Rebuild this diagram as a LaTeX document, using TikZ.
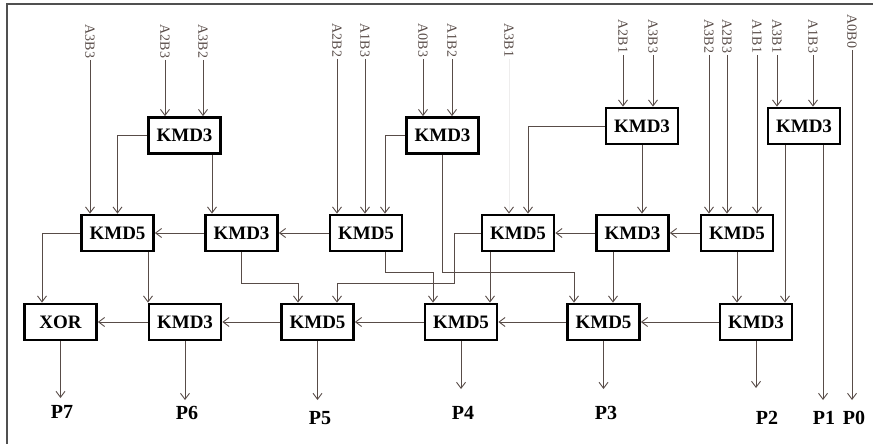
\documentclass[tikz,border=0pt]{standalone}
\usepackage{fontspec}
\setmainfont{Liberation Serif}
\usetikzlibrary{arrows.meta}
\definecolor{wirecol}{RGB}{88,76,72}
\definecolor{edgegray}{RGB}{80,80,80}

\begin{document}
\begin{tikzpicture}[x=1pt, y=-1pt,
    blk/.style={draw, line width=2.8pt, minimum width=72pt, minimum height=36pt, inner sep=0pt, font=\bfseries\fontsize{19}{19}\selectfont},
    wire/.style={draw=wirecol, line width=0.9pt, -{Straight Barb[length=6pt,width=9pt]}},
    inlab/.style={rotate=-90, anchor=west, inner sep=1.5pt, text=wirecol, font=\fontsize{14}{14}\selectfont},
    outlab/.style={font=\bfseries\fontsize{20}{20}\selectfont}]
    \useasboundingbox (0,0) rectangle (873,444);

    % Frame
    \draw[edgegray, line width=1.4pt] (7,444) -- (7,4) -- (873,4);

    % Top blocks
    \node[blk] (t1) at (184.5,135.5) {KMD3};
    \node[blk] (t2) at (442.5,135.5) {KMD3};
    \node[blk] (t3) at (642,126) {KMD3};
    \node[blk] (t4) at (804,126) {KMD3};

    % Middle blocks
    \node[blk] (m1) at (117.5,233) {KMD5};
    \node[blk] (m2) at (241.5,233) {KMD3};
    \node[blk] (m3) at (366,233) {KMD5};
    \node[blk] (m4) at (518,233) {KMD5};
    \node[blk] (m5) at (632.5,233) {KMD3};
    \node[blk] (m6) at (737,233) {KMD5};

    % Bottom blocks
    \node[blk] (b1) at (60.5,322) {XOR};
    \node[blk] (b2) at (185,322) {KMD3};
    \node[blk] (b3) at (317.5,322) {KMD5};
    \node[blk] (b4) at (461,322) {KMD5};
    \node[blk] (b5) at (603.5,322) {KMD5};
    \node[blk] (b6) at (756,322) {KMD3};

    % Partial products
    \foreach \n/\x/\y/\t in {i1/90/23/A3B3, i2/165/23/A2B3, i3/203/23/A3B2, i4/337/22/A2B2,
        i5/365/22/A1B3, i6/423/22/A0B3, i7/452/22/A1B2, i8/509/22/A3B1, i9/623/18/A2B1,
        i10/653/18/A3B3, i11/709/18/A3B2, i12/727/18/A2B3, i13/757/18/A1B1, i14/777/18/A3B1,
        i15/813/18/A1B3, i16/852/13/A0B0}
        \node[inlab] (\n) at (\x,\y) {\t};

    % Outputs
    \foreach \n/\x/\y/\lx/\ly in {7/60.5/398/62/412, 6/185/400/187/413, 5/317.5/400/320/418,
        4/461/389/463/413, 3/603.5/389/606/413, 2/756/388/767/418, 1/823/400/824/418, 0/852/400/854/418} {
        \coordinate (o\n) at (\x,\y);
        \node[outlab] (p\n) at (\lx,\ly) {P\n};
    }

    % Input wires
    \foreach \i/\b in {i1/m1, i2/t1, i3/t1, i4/m3, i5/m3, i6/t2, i7/t2, i9/t3, i10/t3,
        i11/m6, i12/m6, i13/m6, i14/t4, i15/t4}
        \draw[wire] (\i.east) -- (\i.east |- \b.north);
    \draw[wire, draw=wirecol!10, -{Straight Barb[length=6pt,width=9pt,color=wirecol]}] (i8.east) -- (i8.east |- m4.north);
    \draw[wire] (i16.east) -- (o0);

    % Top to middle
    \coordinate (bus1) at (0,272);
    \coordinate (bus2) at (0,283);
    \coordinate (t1o) at ([xshift=27.5pt]t1.south);
    \coordinate (t4l) at ([xshift=-19pt]t4.south);
    \coordinate (t4r) at ([xshift=19pt]t4.south);
    \draw[wire] (t1.west) -| (m1.north);
    \draw[wire] (t1o) -- (t1o |- m2.north);
    \draw[wire] (t2.west) -| ([xshift=19pt]m3.north);
    \draw[wire] (t2.south) -- (t2.south |- bus1) -| ([xshift=-29.5pt]b5.north);
    \draw[wire] (t3.west) -| ([xshift=10pt]m4.north);
    \draw[wire] (t3.south) -- (t3.south |- m5.north);
    \draw[wire] (t4l) -- (t4l |- b6.north);
    \draw[wire] (t4r) -- (o1);

    % Middle row
    \draw[wire] (m6.west) -- (m5.east);
    \draw[wire] (m5.west) -- (m4.east);
    \draw[wire] (m3.west) -- (m2.east);
    \draw[wire] (m2.west) -- (m1.east);

    % Middle to bottom
    \coordinate (b3r) at ([xshift=19.5pt]b3.north);
    \coordinate (m1o) at ([xshift=30.5pt]m1.south);
    \coordinate (m3o) at ([xshift=19pt]m3.south);
    \coordinate (m4o) at ([xshift=-28pt]m4.south);
    \coordinate (m5o) at ([xshift=-19.5pt]m5.south);
    \draw[wire] (m4.west) -- ++(-26,0) |- (b3r |- bus2) -- (b3r);
    \draw[wire] (m3o) -- (m3o |- bus1) -| ([xshift=-28pt]b4.north);
    \draw[wire] (m2.south) -- (m2.south |- bus2) -| ([xshift=-19.5pt]b3.north);
    \draw[wire] (m1.west) -| ([xshift=-18.5pt]b1.north);
    \draw[wire] (m1o) -- (m1o |- b2.north);
    \draw[wire] (m4o) -- (m4o |- b4.north);
    \draw[wire] (m5o) -- (m5o |- b5.north);
    \draw[wire] (m6.south) -- (m6.south |- b6.north);

    % Bottom row
    \draw[wire] (b6.west) -- (b5.east);
    \draw[wire] (b5.west) -- (b4.east);
    \draw[wire] (b4.west) -- (b3.east);
    \draw[wire] (b3.west) -- (b2.east);
    \draw[wire] (b2.west) -- (b1.east);

    % Product bits
    \foreach \b/\n in {b1/7, b2/6, b3/5, b4/4, b5/3, b6/2}
        \draw[wire] (\b.south) -- (o\n);
\end{tikzpicture}
\end{document}
